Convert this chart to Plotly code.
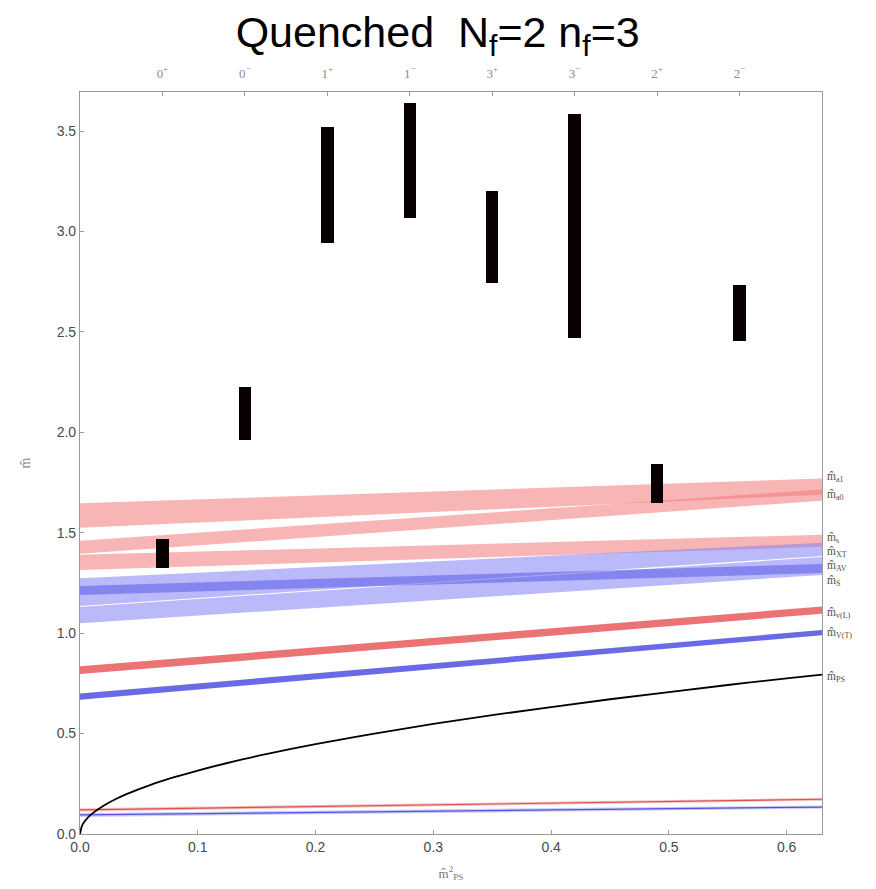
import plotly.graph_objects as go

# ---------------- data ----------------
state_labels = ["0<sup>+</sup>", "0<sup>−</sup>", "1<sup>+</sup>", "1<sup>−</sup>",
                "3<sup>+</sup>", "3<sup>−</sup>", "2<sup>+</sup>", "2<sup>−</sup>"]
state_x = [0.07, 0.14, 0.21, 0.28, 0.35, 0.42, 0.49, 0.56]
state_lo = [1.325, 1.962, 2.945, 3.066, 2.746, 2.469, 1.648, 2.455]
state_hi = [1.469, 2.228, 3.522, 3.642, 3.202, 3.584, 1.843, 2.734]

x_min, x_max = 0.0, 0.63

# bands: lower/upper edge at the left (x=0) and right (x=0.63) ends
band_names = ["a1", "a0", "s", "AT", "AV", "S", "vL", "VT", "qR", "qB"]
band_lo_left = [1.525, 1.395, 1.315, 1.136, 1.049, 1.190, 0.797, 0.668, 0.112, 0.085]
band_hi_left = [1.647, 1.460, 1.390, 1.273, 1.131, 1.235, 0.835, 0.700, 0.128, 0.105]
band_lo_right = [1.690, 1.660, 1.430, 1.385, 1.290, 1.300, 1.097, 0.990, 0.166, 0.126]
band_hi_right = [1.770, 1.715, 1.490, 1.450, 1.379, 1.345, 1.133, 1.016, 0.180, 0.142]
band_fill = ["rgba(242,120,120,0.55)", "rgba(242,120,120,0.55)", "rgba(242,120,120,0.55)",
             "rgba(130,130,245,0.55)", "rgba(130,130,245,0.55)", "rgba(90,90,230,0.55)",
             "rgba(232,90,90,0.85)", "rgba(80,80,225,0.85)",
             "rgba(235,120,120,0.45)", "rgba(110,110,235,0.35)"]

ps_x = [0.0, 0.002, 0.005, 0.01, 0.02, 0.03, 0.04, 0.06, 0.08, 0.10, 0.13, 0.16, 0.20,
        0.25, 0.30, 0.35, 0.40, 0.45, 0.50, 0.55, 0.60, 0.63]
ps_y = [0.0, 0.045, 0.071, 0.100, 0.141, 0.173, 0.200, 0.245, 0.283, 0.316, 0.361, 0.400,
        0.447, 0.500, 0.548, 0.592, 0.632, 0.671, 0.707, 0.742, 0.775, 0.794]

right_labels = ["m̂<sub>a1</sub>", "m̂<sub>a0</sub>", "m̂<sub>s</sub>", "m̂<sub>XT</sub>",
                "m̂<sub>AV</sub>", "m̂<sub>S</sub>", "m̂<sub>v(L)</sub>", "m̂<sub>V(T)</sub>",
                "m̂<sub>PS</sub>"]
right_label_y = [1.78, 1.69, 1.475, 1.405, 1.335, 1.262, 1.10, 1.00, 0.78]

x_ticks = [0.0, 0.1, 0.2, 0.3, 0.4, 0.5, 0.6]
y_ticks = [0.0, 0.5, 1.0, 1.5, 2.0, 2.5, 3.0, 3.5]

# ---------------- figure ----------------
fig = go.Figure()

for i in range(len(band_names)):
    fig.add_trace(go.Scatter(
        x=[x_min, x_max, x_max, x_min, x_min],
        y=[band_lo_left[i], band_lo_right[i], band_hi_right[i], band_hi_left[i], band_lo_left[i]],
        fill="toself", fillcolor=band_fill[i], mode="lines", line=dict(width=0),
        hoverinfo="skip", showlegend=False))

# thin centre lines for the bottom bands
fig.add_trace(go.Scatter(x=[x_min, x_max], y=[(band_lo_left[8] + band_hi_left[8]) / 2,
                                               (band_lo_right[8] + band_hi_right[8]) / 2],
                         mode="lines", line=dict(color="rgba(215,70,70,0.9)", width=1.2),
                         showlegend=False, hoverinfo="skip"))
fig.add_trace(go.Scatter(x=[x_min, x_max], y=[(band_lo_left[9] + band_hi_left[9]) / 2,
                                               (band_lo_right[9] + band_hi_right[9]) / 2],
                         mode="lines", line=dict(color="rgba(70,70,210,0.9)", width=1.2),
                         showlegend=False, hoverinfo="skip"))

fig.add_trace(go.Scatter(x=ps_x, y=ps_y, mode="lines",
                         line=dict(color="black", width=1.8, shape="spline"),
                         showlegend=False, hoverinfo="skip"))

# bars on the overlaying top axis so they are drawn above the bands
fig.add_trace(go.Bar(x=state_x, y=[h - l for h, l in zip(state_hi, state_lo)], base=state_lo,
                     width=0.0105, xaxis="x2",
                     marker=dict(color="rgb(8,0,0)", line=dict(width=0)),
                     showlegend=False, hoverinfo="skip"))

tick_font = dict(family="Liberation Sans", size=14, color="#4a4a4a")

fig.update_layout(
    width=868, height=881,
    margin=dict(l=72, r=54, t=84, b=55),
    paper_bgcolor="white", plot_bgcolor="white",
    title=dict(text="Quenched\u00a0 N<sub>f</sub>=2 n<sub>f</sub>=3",
               x=0.495, xanchor="center", y=0.973, yanchor="middle",
               font=dict(family="Liberation Sans", size=43, color="black")),
    xaxis=dict(range=[x_min, x_max], tickvals=x_ticks, ticktext=[f"{v:.1f}" for v in x_ticks],
               showgrid=False, zeroline=False, showline=True, linecolor="#9a9a9a", linewidth=1.2,
               mirror=False, ticks="inside", ticklen=4, tickcolor="#9a9a9a", tickfont=tick_font,
               automargin=False,
               title=dict(text="m̂<sup>2</sup><sub>PS</sub>", standoff=14,
                          font=dict(family="Liberation Serif", size=13, color="#777"))),
    xaxis2=dict(range=[x_min, x_max], overlaying="x", side="top", tickvals=state_x,
                ticktext=state_labels, showgrid=False, zeroline=False, showline=True,
                linecolor="#9a9a9a", linewidth=1.2, ticks="inside", ticklen=4, tickcolor="#9a9a9a",
                automargin=False, ticklabelstandoff=8,
                tickfont=dict(family="Liberation Serif", size=13, color="#8a8a8a")),
    yaxis=dict(range=[0, 3.695], tickvals=y_ticks, ticktext=[f"{v:.1f}" for v in y_ticks],
               showgrid=False, zeroline=False, showline=True, linecolor="#9a9a9a", linewidth=1.2,
               mirror=True, ticks="inside", ticklen=4, tickcolor="#9a9a9a", tickfont=tick_font,
               automargin=False,
               title=dict(text="m̂", standoff=22,
                          font=dict(family="Liberation Serif", size=14, color="#8a8a8a"))),
    bargap=0,
)

for txt, yv in zip(right_labels, right_label_y):
    fig.add_annotation(x=x_max, y=yv, xref="x", yref="y", text=txt, showarrow=False,
                       xanchor="left", yanchor="middle", xshift=3,
                       font=dict(family="Liberation Serif", size=11.5, color="#505050"))

fig.write_html("out.html")
